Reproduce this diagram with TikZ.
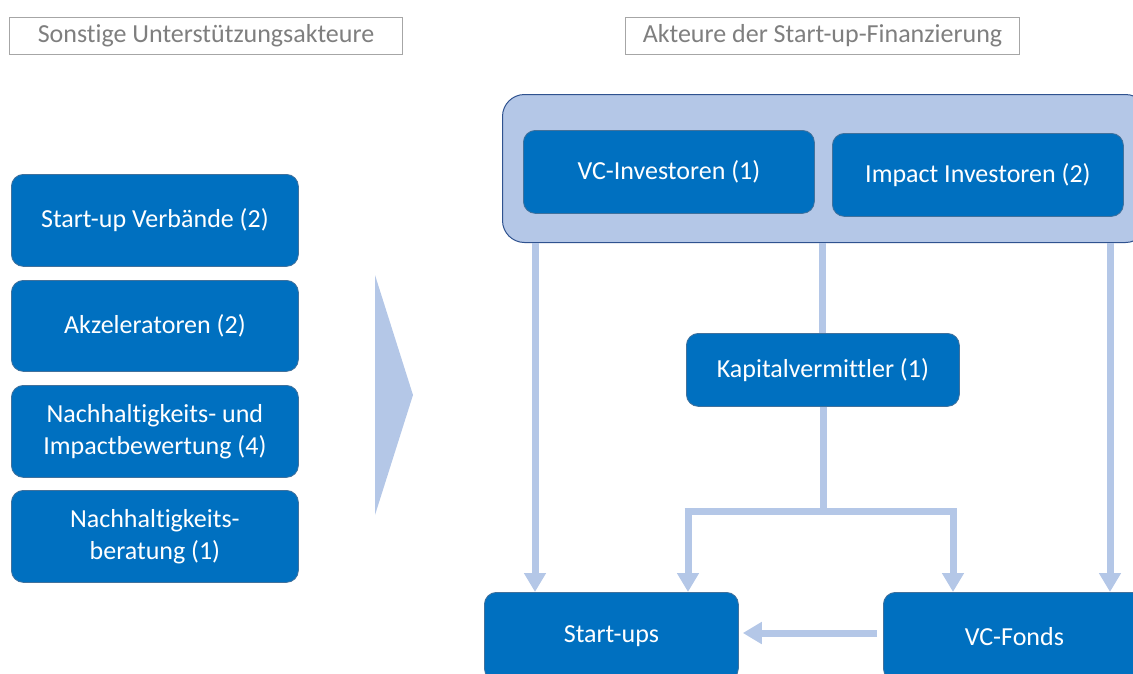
\documentclass[tikz,border=0pt]{standalone}
\usepackage{fontspec}
\setmainfont{Carlito}[Ligatures=NoCommon]
\usetikzlibrary{arrows.meta}
\definecolor{boxblue}{HTML}{0070C0}
\definecolor{boxedge}{HTML}{41719C}
\definecolor{paleblue}{HTML}{B4C7E7}
\definecolor{groupedge}{HTML}{2F528F}
\definecolor{titlegray}{HTML}{7F7F7F}
\definecolor{titleedge}{HTML}{A6A6A6}
\tikzset{
  actor/.style={draw=boxedge, line width=0.8pt, fill=boxblue, rounded corners=12pt,
    text=white, font=\fontsize{26}{32}\selectfont, align=center, anchor=north west,
    inner sep=0pt},
  heading/.style={draw=titleedge, line width=1pt, fill=white, text=titlegray,
    font=\fontsize{26}{30}\selectfont, anchor=north west, inner sep=0pt},
  flow/.style={draw=paleblue, line width=7pt,
    -{Triangle[width=21pt,length=19pt]}, shorten >=0pt},
  plain/.style={draw=paleblue, line width=7pt, line cap=butt, line join=miter},
}
\begin{document}
\begin{tikzpicture}[x=1pt, y=-1pt]
\useasboundingbox (0,0) rectangle (1133,673);

% section headings
\node[heading, minimum width=393pt, minimum height=37pt] (hleft) at (9,17) {Sonstige Unterstützungsakteure};
\node[heading, minimum width=394pt, minimum height=37pt] (hright) at (625,17) {Akteure der Start-up-Finanzierung};

% supporting actors
\node[actor, minimum width=287pt, minimum height=92pt] (verb) at (11,174) {Start-up Verbände (2)};
\node[actor, minimum width=287pt, minimum height=91pt] (akz) at (11,280) {Akzeleratoren (2)};
\node[actor, minimum width=287pt, minimum height=92pt] (bew) at (11,385) {Nachhaltigkeits- und\\Impactbewertung (4)};
\node[actor, minimum width=287pt, minimum height=92pt] (ber) at (11,490) {Nachhaltigkeits-\\beratung (1)};

% chevron between the two sections
\fill[paleblue] (375,275) -- (413,395) -- (375,515) -- cycle;

% investor group
\node[draw=groupedge, line width=1pt, fill=paleblue, rounded corners=22pt,
      anchor=north west, minimum width=645pt, minimum height=148pt, inner sep=0pt]
      (group) at (502,94) {};
\node[actor, minimum width=291pt, minimum height=83pt] (vcinv) at (523,130) {VC-Investoren (1)};
\node[actor, minimum width=291pt, minimum height=83pt] (impinv) at (832,133) {Impact Investoren (2)};

% intermediary and targets
\node[actor, minimum width=273pt, minimum height=73pt] (kap) at (686,333) {Kapitalvermittler (1)};
\node[actor, minimum width=254pt, minimum height=88pt] (startups) at (484,592) {Start-ups};
\node[actor, minimum width=262pt, minimum height=88pt] (fonds) at (883,592) {VC-Fonds};

% connector routing points
\coordinate (split) at (823,511);
\coordinate (splitL) at (688,511);
\coordinate (splitR) at (953,511);

% flows
\draw[flow] (group.south -| 535,0) -- (startups.north -| 535,0);
\draw[flow] (group.south -| 1110,0) -- (fonds.north -| 1110,0);
\draw[plain] (group.south -| kap.north) -- (kap.north);
\draw[plain] (kap.south -| split) -- ([yshift=3.5pt]split);
\draw[plain] ([xshift=-3.5pt]splitL) -- ([xshift=3.5pt]splitR);
\draw[flow] ([yshift=-3.5pt]splitL) -- (startups.north -| splitL);
\draw[flow] ([yshift=-3.5pt]splitR) -- (fonds.north -| splitR);
\draw[flow] ([xshift=-6pt]fonds.west |- 633,633) -- ([xshift=4pt]startups.east |- 633,633);
\end{tikzpicture}
\end{document}
